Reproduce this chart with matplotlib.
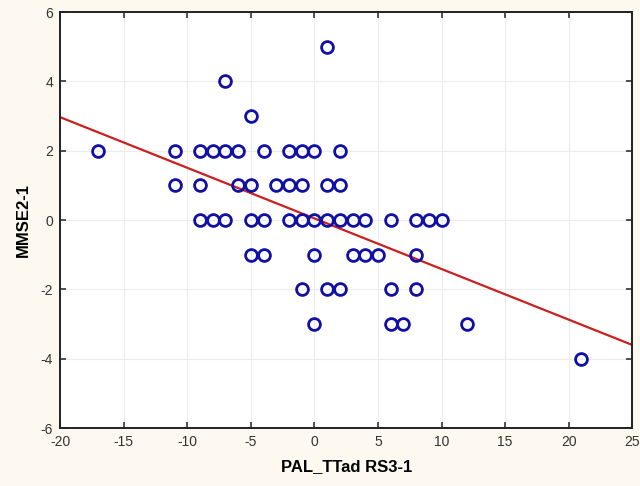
import numpy as np
import matplotlib
matplotlib.use("Agg")
import matplotlib.pyplot as plt

plt.rcParams['font.family'] = ['Liberation Sans', 'DejaVu Sans']
plt.rcParams['axes.unicode_minus'] = False

# scatter points (PAL_TTad RS3-1, MMSE2-1)
pal_x = [-17, -11, -9, -8, -7, -6, -4, -2, -1, 0, 2,
         -11, -9, -6, -5, -3, -2, -1, 1, 2,
         -9, -8, -7, -5, -4, -2, -1, 0, 1, 2, 3, 4, 6, 8, 9, 10,
         -5, -4, 0, 3, 4, 5, 8,
         -1, 1, 2, 6, 8,
         0, 6, 7, 12,
         21, -5, -7, 1]
mmse_y = [2] * 11 + [1] * 9 + [0] * 16 + [-1] * 7 + [-2] * 5 + [-3] * 4 + [-4, 3, 4, 5]

# fitted regression line
fit_intercept = 0.05
fit_slope = -0.146

fig = plt.figure(figsize=(6.4, 4.86), dpi=100, facecolor="#fdf8f0")
ax = fig.add_axes([0.094, 0.119, 0.894, 0.856])
ax.set_facecolor("white")

xs = np.array([-20, 25])
ax.plot(xs, fit_intercept + fit_slope * xs, color="#cc1f1f", lw=1.6, zorder=2)
ax.plot(pal_x, mmse_y, linestyle="none", marker="o", markersize=8.5,
        markerfacecolor="none", markeredgecolor="#1010a8", markeredgewidth=2.0, zorder=3)

ax.set_xlim(-20, 25)
ax.set_ylim(-6, 6)
ax.set_xticks(np.arange(-20, 26, 5))
ax.set_yticks(np.arange(-6, 7, 2))
ax.grid(True, color="#ececec", lw=0.8)
ax.set_axisbelow(True)
ax.tick_params(direction="in", top=True, right=True, length=4, width=1.2,
               labelsize=10, colors="#333333", labelcolor="#333333", pad=5)
for sp in ax.spines.values():
    sp.set_color("#222222")
    sp.set_linewidth(1.4)

ax.set_xlabel("PAL_TTad RS3-1", fontsize=12, fontweight="bold", labelpad=7)
ax.set_ylabel("MMSE2-1", fontsize=12, fontweight="bold", labelpad=7)

fig.savefig("out.png", dpi=100, facecolor=fig.get_facecolor())
